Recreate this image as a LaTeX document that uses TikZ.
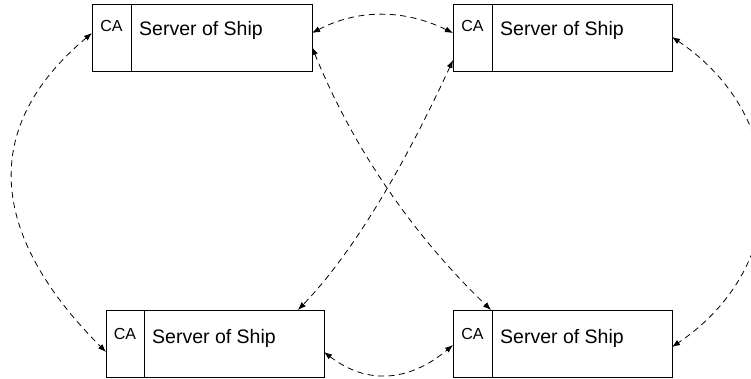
\documentclass[tikz,border=0pt]{standalone}
\usepackage{fontspec}
\setmainfont{Liberation Sans}
\usetikzlibrary{arrows.meta,calc}
\tikzset{
  server/.style={draw=black, line width=0.9pt, minimum height=67pt,
    inner sep=0pt, outer sep=0pt},
  divider/.style={draw=black, line width=0.9pt},
  catext/.style={font=\fontsize{16}{18}\selectfont, anchor=base, inner sep=0pt},
  nametext/.style={font=\fontsize{19.5}{22}\selectfont, anchor=base west, inner sep=0pt},
  link/.style={line width=0.8pt, dash pattern=on 6pt off 4.5pt,
    {Latex[length=8pt,width=6pt]}-{Latex[length=8pt,width=6pt]}},
}
\begin{document}
\begin{tikzpicture}[x=1pt,y=-1pt]
\useasboundingbox (0,0) rectangle (751,379);
\clip (0,0) rectangle (751,379);

% four server boxes, each with a CA cell on the left
\node[server, minimum width=220pt] (tl) at (202,37.5) {};
\node[server, minimum width=219pt] (tr) at (562.5,37.5) {};
\node[server, minimum width=218pt] (bl) at (215,343.5) {};
\node[server, minimum width=219pt] (br) at (562.5,343.5) {};

\draw[divider] ($(tl.north west)+(39,0)$) -- ($(tl.south west)+(39,0)$);
\draw[divider] ($(tr.north west)+(39,0)$) -- ($(tr.south west)+(39,0)$);
\draw[divider] ($(bl.north west)+(38,0)$) -- ($(bl.south west)+(38,0)$);
\draw[divider] ($(br.north west)+(39,0)$) -- ($(br.south west)+(39,0)$);

\node[catext] (tlca) at ($(tl.north west)+(19.5,28)$) {CA};
\node[catext] (trca) at ($(tr.north west)+(19.5,28)$) {CA};
\node[catext] (blca) at ($(bl.north west)+(19,29)$) {CA};
\node[catext] (brca) at ($(br.north west)+(19.5,29)$) {CA};

\node[nametext] (tlname) at ($(tl.north west)+(47,32)$) {Server of Ship};
\node[nametext] (trname) at ($(tr.north west)+(47,32)$) {Server of Ship};
\node[nametext] (blname) at ($(bl.north west)+(46,33)$) {Server of Ship};
\node[nametext] (brname) at ($(br.north west)+(47,33)$) {Server of Ship};

% links between the servers
\draw[link] ($(tl.north east)+(0,29)$) .. controls (358,9) and (404,9) .. ($(tr.north west)+(0,29)$);
\draw[link] ($(bl.north east)+(0,42)$) .. controls (367,385) and (409,382) .. ($(br.north west)+(0,35)$);
\draw[link] ($(tl.north west)+(0,29)$) .. controls (-27,133) and (-4,242) .. ($(bl.north west)+(0,42)$);
\draw[link] ($(tr.north east)+(0,33)$) .. controls (792,118) and (792,266) .. ($(br.north east)+(0,37)$);
\draw[link] ($(tl.north east)+(0,43)$) .. controls (352,146) and (412,234) .. ($(br.north west)+(38,0)$);
\draw[link] ($(tr.north west)+(0,56)$) .. controls (402,171) and (351,255) .. ($(bl.north west)+(192,0)$);
\end{tikzpicture}
\end{document}
